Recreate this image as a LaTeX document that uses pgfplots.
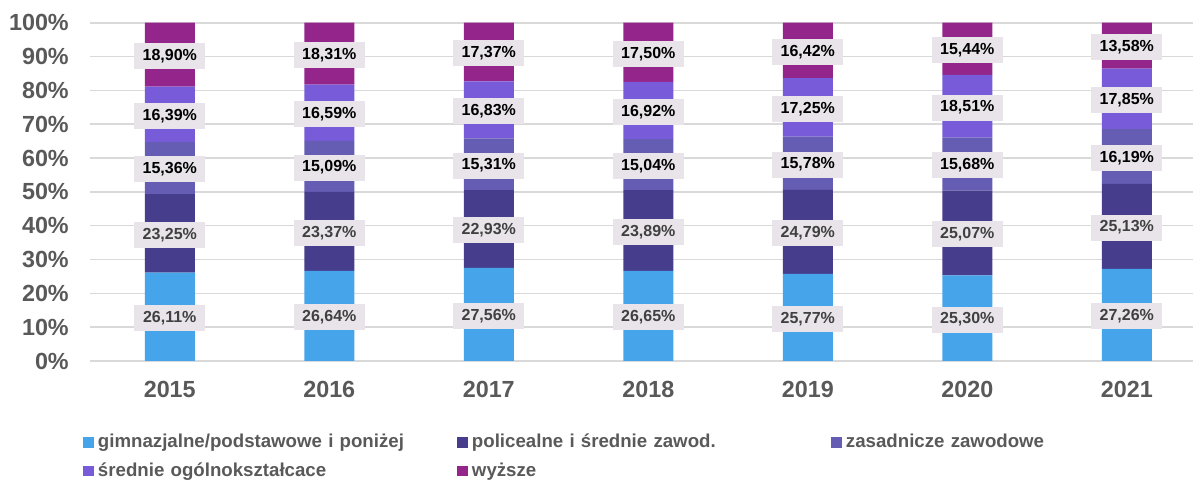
\documentclass[border=0pt]{standalone}
\usepackage{fontspec}
\setmainfont{Liberation Sans}
\usepackage{pgfplots}
\usepackage{pgfplotstable}
\pgfplotsset{compat=1.18}
\definecolor{cA}{HTML}{46A5EA}
\definecolor{cB}{HTML}{463E8C}
\definecolor{cC}{HTML}{655CB4}
\definecolor{cD}{HTML}{775BD8}
\definecolor{cE}{HTML}{94268B}
\definecolor{gridc}{HTML}{D9D9D9}
\definecolor{tickc}{HTML}{595959}
\definecolor{boxc}{HTML}{E8E4EA}
\definecolor{lblA}{HTML}{404040}
\pgfplotstableread{
x year a b c d e
0 2015 26.11 23.25 15.36 16.39 18.90
1 2016 26.64 23.37 15.09 16.59 18.31
2 2017 27.56 22.93 15.31 16.83 17.37
3 2018 26.65 23.89 15.04 16.92 17.50
4 2019 25.77 24.79 15.78 17.25 16.42
5 2020 25.30 25.07 15.68 18.51 15.44
6 2021 27.26 25.13 16.19 17.85 13.58
}\data
\pgfplotsset{common/.style={
  width=827.25pt, height=253.7pt, scale only axis,
  xmin=-0.5, xmax=6.415, ymin=0, ymax=100,
  at={(0,0)}, anchor=south west,
  /pgf/number format/assume math mode=true,
}}
\begin{document}
\begin{tikzpicture}
\useasboundingbox (-67.5pt,-90pt) rectangle (827.25pt,270.75pt);
\begin{axis}[common,
  ybar stacked, bar width=37.5pt,
  axis line style={draw=none},
  major tick length=0pt,
  ymajorgrids, grid style={gridc, line width=1.2pt},
  xtick={0,1,2,3,4,5,6},
  xticklabels={2015,2016,2017,2018,2019,2020,2021},
  ytick={0,10,...,100},
  yticklabel={\pgfmathprintnumber{\tick}\%},
  tick label style={font=\fontsize{17.5}{21}\selectfont\bfseries, text=tickc},
  yticklabel style={anchor=east, inner sep=0pt, xshift=-15.75pt},
  xticklabel style={anchor=base, inner sep=0pt, yshift=-27.3pt},
  legend columns=3,
  legend style={at={(0,0)}, anchor=north west, xshift=-5.25pt, yshift=-55pt,
    draw=none, fill=none, inner sep=0pt, outer sep=0pt,
    column sep=3pt, row sep=8.5pt,
    font=\fontsize{14}{16}\selectfont\bfseries,
    cells={anchor=west},
    nodes={text width=266.25pt, align=left, inner sep=0pt, text height=10pt, text depth=3pt, text=tickc}},
  legend image code/.code={\fill[#1] (0pt,-3.6pt) rectangle (8.25pt,4.6pt);},
]
\addplot[fill=cA, draw=none] table[x=x, y=a]{\data};
\addlegendentry{gimnazjalne/podstawowe i poniżej}
\addplot[fill=cB, draw=none] table[x=x, y=b]{\data};
\addlegendentry{policealne i średnie zawod.}
\addplot[fill=cC, draw=none] table[x=x, y=c]{\data};
\addlegendentry{zasadnicze zawodowe}
\addplot[fill=cD, draw=none] table[x=x, y=d]{\data};
\addlegendentry{średnie ogólnokształcace}
\addplot[fill=cE, draw=none] table[x=x, y=e]{\data};
\addlegendentry{wyższe}
\end{axis}
\begin{axis}[common, hide axis, clip=false,
  point meta=explicit,
  nodes near coords={\pgfmathprintnumber[fixed,fixed zerofill,precision=2,use comma,assume math mode=true]{\pgfplotspointmeta}\%},
  nodes near coords align={center},
  every node near coord/.append style={anchor=center, fill=boxc,
    font=\fontsize{12}{14}\selectfont\bfseries,
    minimum width=53.25pt, minimum height=19.5pt, inner sep=0pt, yshift=-1pt},
]
\addplot[draw=none, nodes near coords style={text=lblA}] table[x=x, y expr=\thisrow{a}/2, meta=a]{\data};
\addplot[draw=none, nodes near coords style={text=lblA}] table[x=x, y expr=\thisrow{a}+\thisrow{b}/2, meta=b]{\data};
\addplot[draw=none, nodes near coords style={text=black}] table[x=x, y expr=\thisrow{a}+\thisrow{b}+\thisrow{c}/2, meta=c]{\data};
\addplot[draw=none, nodes near coords style={text=black}] table[x=x, y expr=\thisrow{a}+\thisrow{b}+\thisrow{c}+\thisrow{d}/2, meta=d]{\data};
\addplot[draw=none, nodes near coords style={text=black}] table[x=x, y expr=\thisrow{a}+\thisrow{b}+\thisrow{c}+\thisrow{d}+\thisrow{e}/2, meta=e]{\data};
\end{axis}
\end{tikzpicture}
\end{document}
